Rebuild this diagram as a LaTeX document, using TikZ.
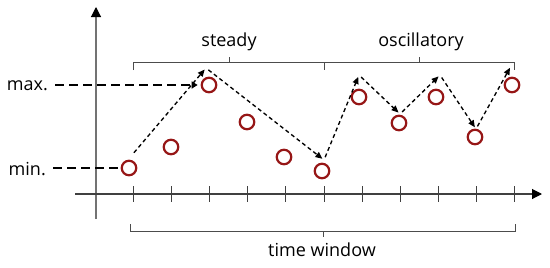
\documentclass[tikz,border=0pt]{standalone}
\usepackage{fontspec}
\setmainfont{Open Sans}
\usetikzlibrary{arrows.meta, positioning}
\definecolor{ptred}{RGB}{150,22,22}
\tikzset{
  axis/.style={draw=black!55, line width=1.1pt,
               -{Triangle[length=10pt,width=10pt,color=black]}},
  tick/.style={draw=black!75, line width=0.8pt},
  brace/.style={draw=black!70, line width=0.8pt},
  pt/.style={circle, draw=ptred, line width=2.2pt, minimum size=14.5pt, inner sep=0pt},
  trend/.style={-{Triangle[length=7pt,width=6pt]}, line width=1.35pt,
                dash pattern=on 4pt off 3pt, shorten <=3pt, shorten >=2pt},
  level/.style={line width=2.2pt, dash pattern=on 9pt off 5pt},
  lbl/.style={font=\fontsize{18}{20}\selectfont, inner sep=1pt},
}
\begin{document}
\begin{tikzpicture}[x=1pt, y=-1pt]
  \useasboundingbox (0,0) rectangle (550,268);
  % axes
  \coordinate (yb) at (96,219);
  \coordinate (yt) at (96,7);
  \coordinate (xl) at (75,194);
  \coordinate (xr) at (542,194);
  \draw[axis] (yb) -- (yt);
  \draw[axis, draw=black!75] (xl) -- (xr);
  \foreach \x in {133,171,209,247,285,324,362,400,438,476,514}
    \draw[tick] (\x,186) -- (\x,202);

  % samples
  \foreach \i/\x/\y in {0/129/168, 1/171/147, 2/209/85, 3/247/122, 4/284/157,
                        5/322/171, 6/359/97, 7/399/123, 8/436/97, 9/475/137, 10/512/85}
    \node[pt] (p\i) at (\x,\y) {};

  % max. / min. levels
  \coordinate (mx) at (55,85);
  \coordinate (mn) at (53,168);
  \node[lbl, anchor=base east] (maxl) at (49,90) {max.};
  \node[lbl, anchor=base east] (minl) at (47,175) {min.};
  \draw[level, -{Triangle[length=6pt,width=7pt]}, shorten >=3pt] (mx) -- (mx -| p2.west);
  \draw[level] (mn) -- (p0.west);

  % trend between extrema
  \coordinate (v0) at (132,155);
  \coordinate (v1) at (206,68);
  \coordinate (v2) at (324,160);
  \coordinate (v3) at (359,75);
  \coordinate (v4) at (400,114);
  \coordinate (v5) at (440,75);
  \coordinate (v6) at (476,129);
  \coordinate (v7) at (511,66);
  \foreach \a/\b in {v0/v1, v1/v2, v2/v3, v3/v4, v4/v5, v5/v6, v6/v7}
    \draw[trend] (\a) -- (\b);

  % phases
  \draw[brace] (133,70) -- (133,62) -- (514,62) -- (514,70);
  \draw[brace] (324,62) -- (324,70);
  \draw[brace] (229,62) -- (229,57);
  \draw[brace] (419,62) -- (419,57);
  \node[lbl, anchor=base] (steady) at (229,46) {steady};
  \node[lbl, anchor=base] (osc) at (421,46) {oscillatory};

  % window
  \draw[brace] (130,224) -- (130,231) -- (515,231) -- (515,224);
  \draw[brace] (323,231) -- (323,237);
  \node[lbl, anchor=base] (win) at (322,256) {time window};
\end{tikzpicture}
\end{document}
